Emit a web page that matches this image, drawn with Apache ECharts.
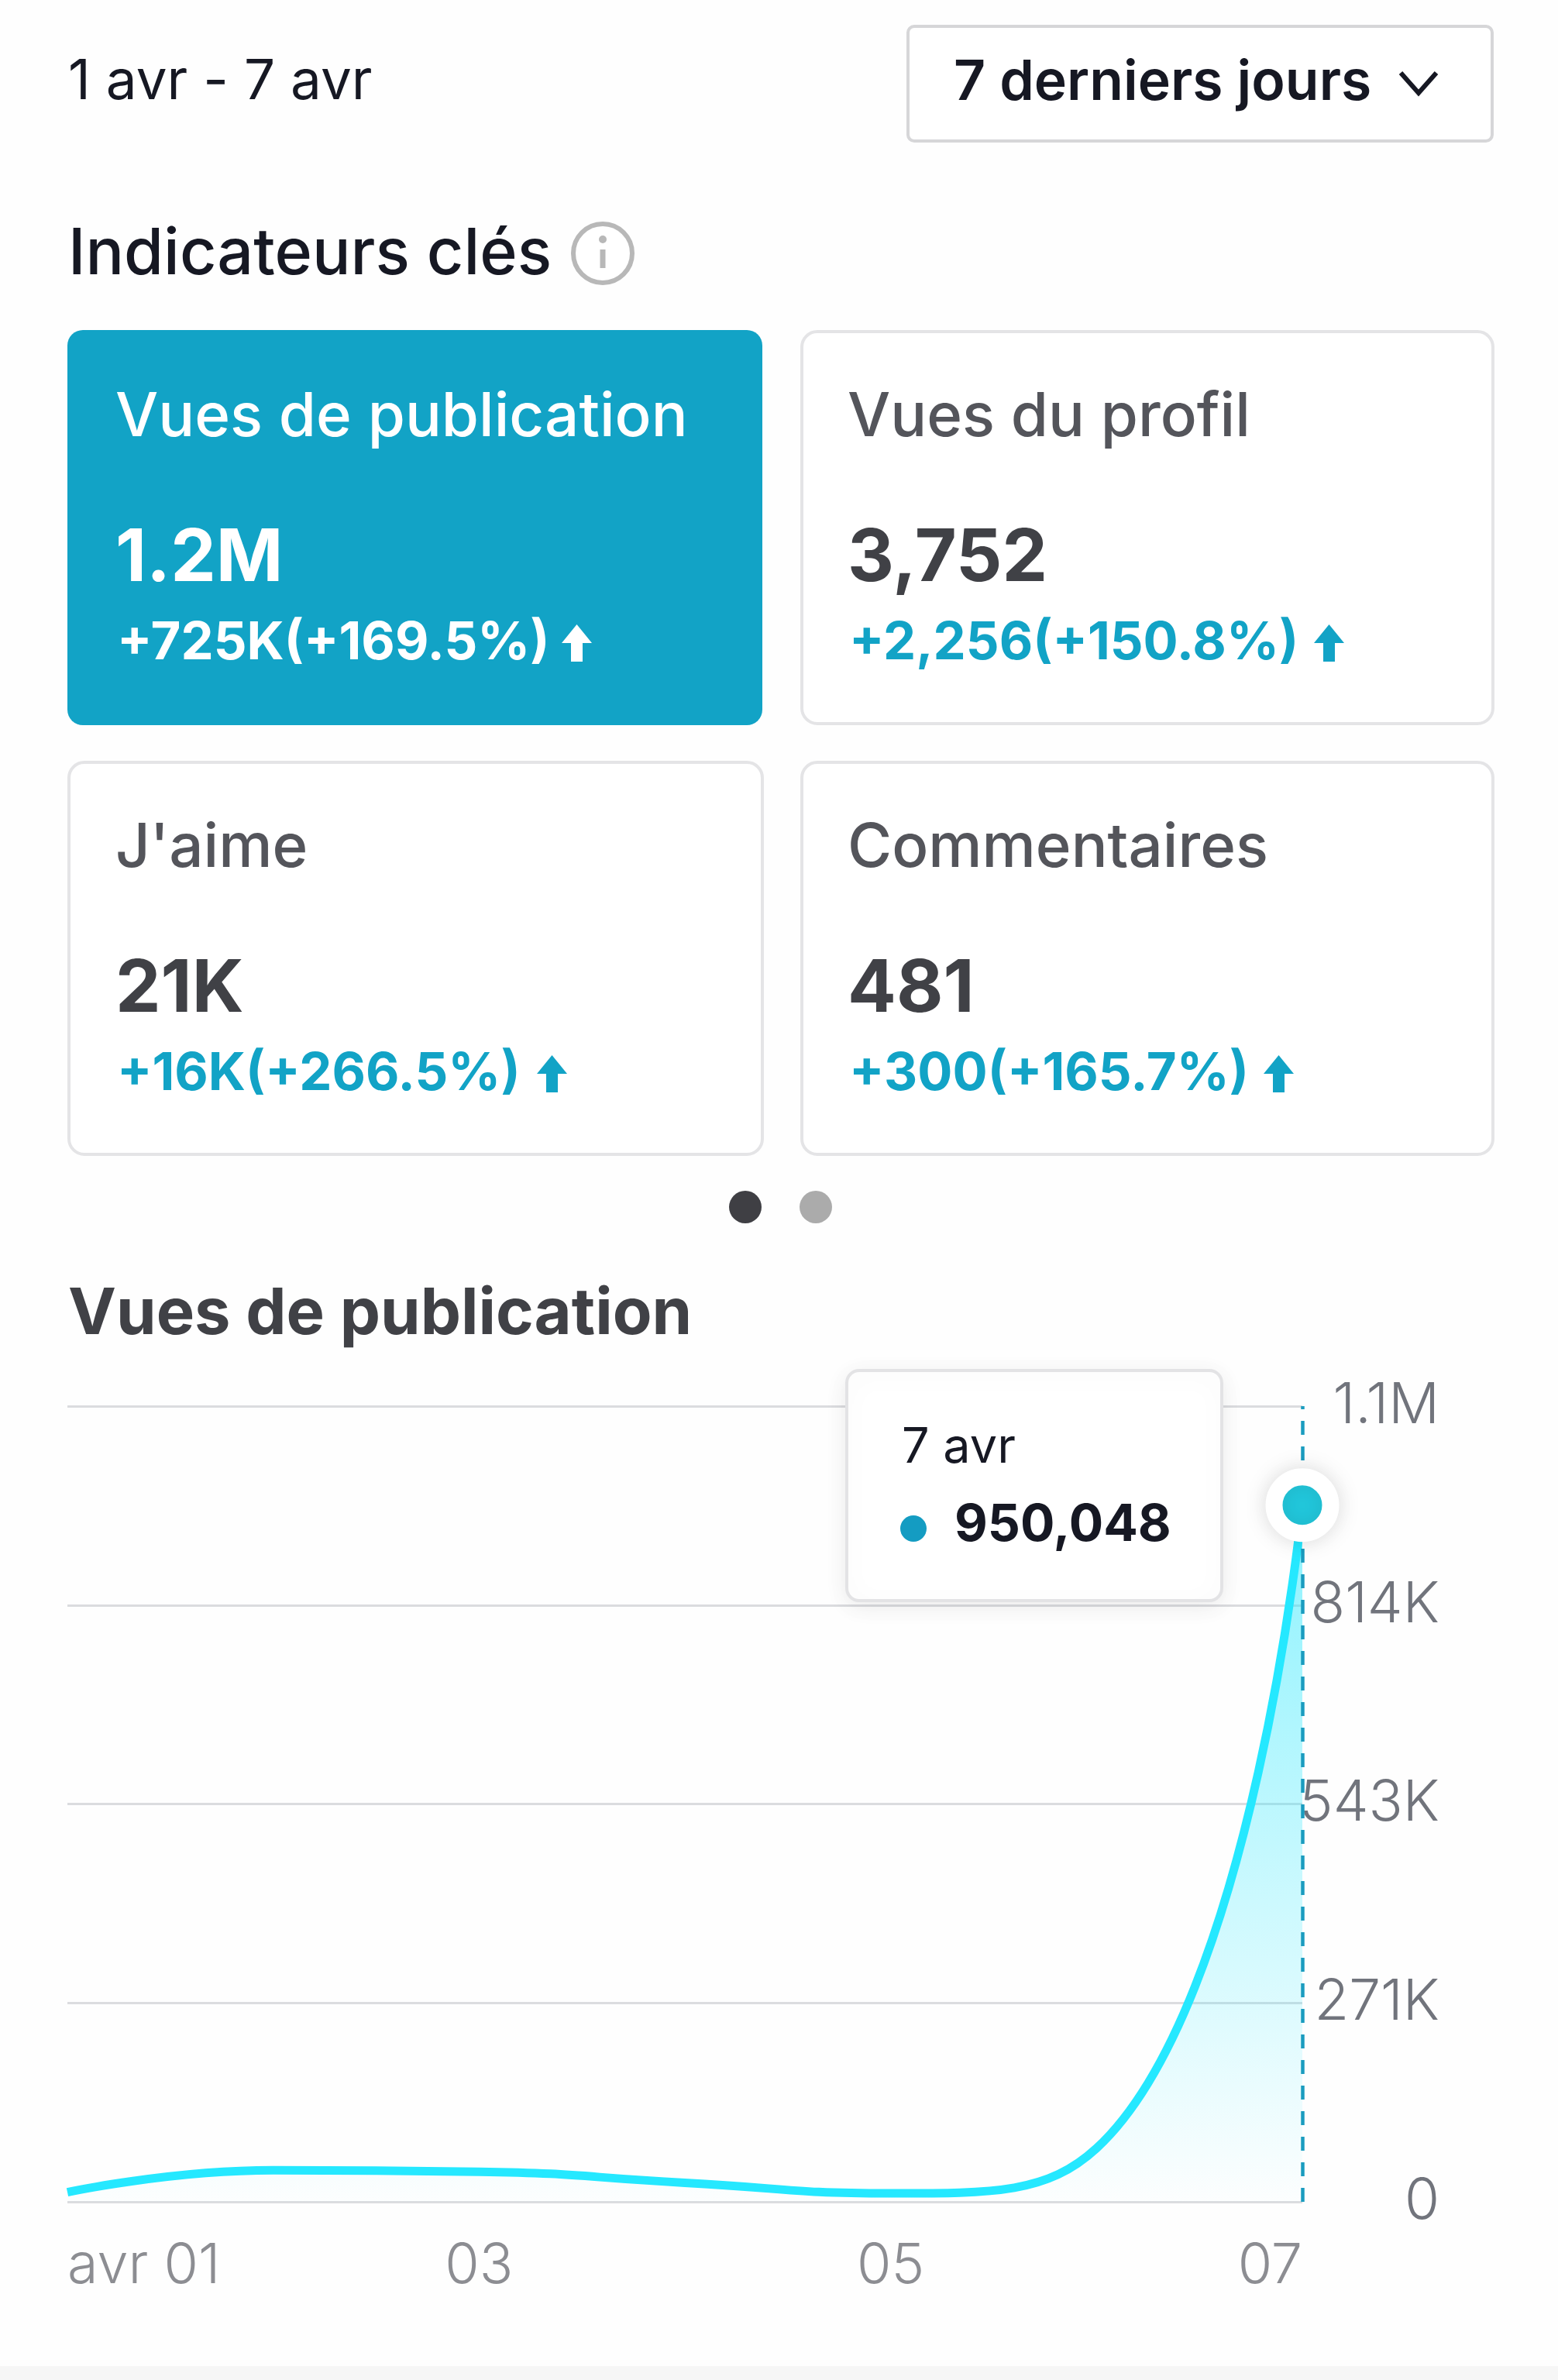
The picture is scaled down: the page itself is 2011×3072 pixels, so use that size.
<!DOCTYPE html>
<html><head><meta charset="utf-8">
<style>html,body{margin:0;padding:0;background:#fefefe}#c{width:2011px;height:3072px}</style>
<script src="https://cdn.jsdelivr.net/npm/echarts@6/dist/echarts.min.js"></script></head>
<body><div id="c"></div>
<script>
const days = ['avr 01','02','03','04','05','06','07'];
const views = [13000,43000,41000,26000,11500,73000,950048];
const yTickLabels = ['0','271K','543K','814K','1.1M'];
const yMax = 1085000;
const yStep = 271250;
const dateRange = '1 avr - 7 avr';
const rangeButton = '7 derniers jours';
const sectionTitle = 'Indicateurs clés';
const chartTitle = 'Vues de publication';
const cardTitles = ['Vues de publication','Vues du profil',"J'aime",'Commentaires'];
const cardValues = ['1.2M','3,752','21K','481'];
const cardDeltas = ['+725K(+169.5%)','+2,256(+150.8%)','+16K(+266.5%)','+300(+165.7%)'];
const cardArrowX = [726,1697,694,1632];
const tipDate = '7 avr';
const tipValue = '950,048';

const FONT = 'Inter, "Noto Sans", sans-serif';
const teal = '#12A3C6';
const g = [];
function text(t,x,y,size,weight,fill,extra){
  g.push(Object.assign({type:'text',z:50,style:{text:t,x:x,y:y,fill:fill,align:'left',verticalAlign:'middle',
    font:weight+' '+size+'px '+FONT}},extra||{}));
}
function rrect(x,y,w,h,r,fill,stroke,lw,extra){
  g.push(Object.assign({type:'rect',z:40,shape:{x,y,width:w,height:h,r},style:{fill,stroke,lineWidth:lw}},extra||{}));
}
function arrow(x,y,fill){
  g.push({type:'polygon',z:50,shape:{points:[[x+18.5,y],[x+38,y+24],[x+26,y+24],[x+26,y+48],[x+11,y+48],[x+11,y+24],[x-1,y+24]]},style:{fill}});
}
// header
text(dateRange,88,107,71,400,'#161823');
rrect(1172,34,754,148,8,'#fff','#D6D6D8',4);
text(rangeButton,1231,107,71.5,600,'#161823');
g.push({type:'polyline',z:50,shape:{points:[[1808,94],[1831,120],[1854,94]]},style:{stroke:'#161823',lineWidth:6,fill:null}});
// section title
text(sectionTitle,88,329,82.5,500,'#161823');
g.push({type:'circle',z:50,shape:{cx:778,cy:327,r:38},style:{fill:'#fff',stroke:'#B8B8B8',lineWidth:6}});
g.push({type:'circle',z:50,shape:{cx:778,cy:309,r:5},style:{fill:'#B8B8B8'}});
g.push({type:'line',z:50,shape:{x1:778,y1:322,x2:778,y2:346},style:{stroke:'#B8B8B8',lineWidth:7}});
// cards
const colX=[87,1033], rowY=[428,984];
cardTitles.forEach((t,i)=>{
  const cx=colX[i%2], cy=rowY[i>>1], active=i===0;
  if(active) rrect(cx,cy-2,897,510,20,teal,teal,0);
  else rrect(cx+2,cy,cx===87?895:892,506,20,'#fff','#E4E4E6',4);
  const lx=cx+62-(i%2);
  text(t,lx,cy+112,78,500,active?'#fff':'#54555B');
  text(cardValues[i],lx,cy+294,93,700,active?'#fff':'#404146');
  text(cardDeltas[i],lx+2,cy+403,67,700,active?'#fff':teal);
  arrow(cardArrowX[i],cy+378,active?'#fff':teal);
});
// pager
g.push({type:'circle',z:50,shape:{cx:962,cy:1558,r:21},style:{fill:'#3F3F44'}});
g.push({type:'circle',z:50,shape:{cx:1053,cy:1558,r:21},style:{fill:'#ABABAB'}});
// chart title
text(chartTitle,88,1697,83,700,'#404146');
// tooltip
rrect(1093,1769,484,297,16,'#fff','#E3E3E5',4,{z:60,style:{fill:'#fff',stroke:'#E3E3E5',lineWidth:4,shadowBlur:30,shadowColor:'rgba(0,0,0,0.08)',shadowOffsetY:6}});
text(tipDate,1164,1869,63,400,'#161823',{z:61});
g.push({type:'circle',z:61,shape:{cx:1179,cy:1973,r:17},style:{fill:'#149CC2'}});
text(tipValue,1232,1969,66,700,'#161823',{z:61});
// bottom band
g.push({type:'rect',z:1,shape:{x:0,y:3054,width:2011,height:18},style:{fill:'#F6F6F6'}});

const chart = echarts.init(document.getElementById('c'),null,{renderer:'canvas'});
const last = views.length-1;
chart.setOption({
  animation:false,
  backgroundColor:'#fefefe',
  grid:{left:87,right:330,top:1815,bottom:230,containLabel:false},
  xAxis:{type:'category',data:days,boundaryGap:false,
    axisLine:{show:false},axisTick:{show:false},splitLine:{show:false},
    axisLabel:{interval:1,showMinLabel:true,showMaxLabel:true,alignMinLabel:'left',alignMaxLabel:'right',
      fontFamily:FONT,fontSize:72,fontWeight:300,color:'#8C8D92',margin:47,lineHeight:72}},
  yAxis:{type:'value',position:'right',min:0,max:yMax,interval:yStep,
    axisLine:{show:false},axisTick:{show:false},
    splitLine:{show:true,lineStyle:{color:'#DBDCDF',width:3}},
    axisLabel:{align:'right',margin:177,fontFamily:FONT,fontSize:73,fontWeight:300,color:'#71747C',
      padding:[0,0,8,0],
      formatter:(v)=>yTickLabels[Math.round(v/yStep)]}},
  graphic:{elements:g},
  series:[{type:'line',data:views,smooth:0.5,symbol:'none',clip:false,z:5,
    lineStyle:{color:'#25E8FF',width:11},
    areaStyle:{color:{type:'linear',x:0,y:0,x2:0,y2:1,colorStops:[{offset:0,color:'rgba(37,232,255,0.75)'},{offset:1,color:'rgba(37,232,255,0.01)'}]}},
    markLine:{silent:true,symbol:'none',z:6,label:{show:false},animation:false,
      lineStyle:{color:'#1A9CBF',type:[18,15],width:4.5},
      data:[[{coord:[days[last],0]},{coord:[days[last],yMax]}]]},
    markPoint:{silent:true,z:8,animation:false,label:{show:false},
      data:[{coord:[days[last],views[last]],symbol:'circle',symbolSize:73,
        itemStyle:{color:'#22CBE0',borderColor:'#fff',borderWidth:22,shadowBlur:30,shadowColor:'rgba(0,0,0,0.12)'}}]}
  }]
});
</script></body></html>
